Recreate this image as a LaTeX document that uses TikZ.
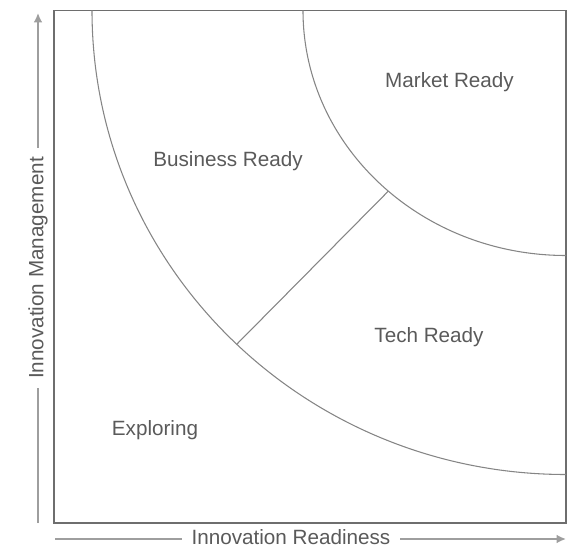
\documentclass[tikz,border=0pt]{standalone}
\usepackage{fontspec}
\setmainfont{Liberation Sans}
\usetikzlibrary{arrows.meta,calc}
\definecolor{frameGray}{HTML}{6E6E6E}
\definecolor{ringGray}{HTML}{858585}
\definecolor{axisGray}{HTML}{9E9E9E}
\definecolor{labelGray}{HTML}{5A5A5A}

\begin{document}
\begin{tikzpicture}[
          x=0.75pt, y=0.75pt,
          frame/.style={draw=frameGray, line width=1pt},
          ring/.style={draw=ringGray, line width=0.8pt},
          axis/.style={-{Latex[length=7pt, width=6.5pt]}, draw=axisGray, fill=axisGray, line width=1.3pt},
          zone/.style={text=labelGray, font=\fontsize{15.5}{18}\selectfont, anchor=base, inner sep=0pt},
          axislabel/.style={text=labelGray, font=\fontsize{15.5}{18}\selectfont, fill=white, inner xsep=7pt, inner ysep=1pt}
        ]
          \useasboundingbox (0,0) rectangle (567,547);
          % frame and rings, centred on the top right corner
          \coordinate (bl) at (54,24);
          \coordinate (tr) at (566,536.5);
          \draw[frame] (bl) rectangle (tr);
          \draw[ring] (tr) ++(-474,0) arc[start angle=180, end angle=270, x radius=474, y radius=464];
          \draw[ring] (tr) ++(-263,0) arc[start angle=180, end angle=270, x radius=263, y radius=245];
          \coordinate (cutin) at ($(tr)+(227.5:263 and 245)$);
          \coordinate (cutout) at ($(tr)+(226:474 and 464)$);
          \draw[ring] (cutout) -- (cutin);
          % zones
          \node[zone] (market) at (449.5,459) {Market Ready};
          \node[zone] (business) at (228,380) {Business Ready};
          \node[zone] (tech) at (429,205) {Tech Ready};
          \node[zone] (exploring) at (155,112) {Exploring};
          % axes
          \coordinate (yfoot) at (38,24);
          \coordinate (ytip) at (38,534);
          \coordinate (xfoot) at (55,8);
          \coordinate (xtip) at (566,8);
          \draw[axis] (yfoot) -- (ytip);
          \draw[axis] (xfoot) -- (xtip);
          \node[axislabel, rotate=90] (ylab) at (38,279) {Innovation Management};
          \node[axislabel] (xlab) at (291,10) {Innovation Readiness};
        \end{tikzpicture}
\end{document}
